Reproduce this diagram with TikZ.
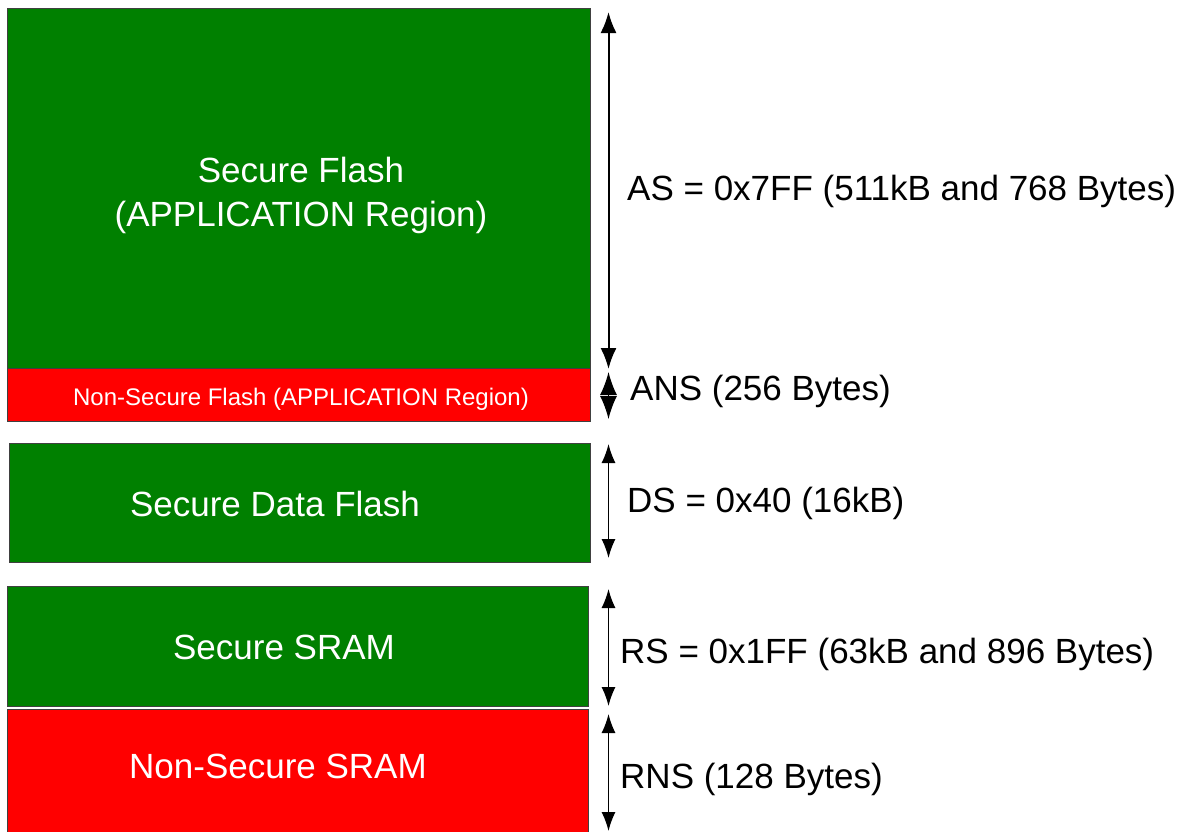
\documentclass[tikz,border=0pt]{standalone}
\usepackage{fontspec}
\setmainfont{Liberation Sans}
\usetikzlibrary{arrows.meta}
\definecolor{sgreen}{HTML}{008000}
\definecolor{nsred}{HTML}{FF0000}
\tikzset{
  box/.style={draw=black!75, line width=0.9pt, inner sep=0pt, anchor=north west},
  big/.style={font=\fontsize{35}{40}\selectfont, inner sep=0pt},
  wtext/.style={big, text=white, align=center},
  small/.style={font=\fontsize{24}{28}\selectfont, inner sep=0pt, text=white},
  dimtext/.style={big, anchor=west},
  bigarrow/.style={line width=2pt, {Latex[length=21pt,width=16pt]}-{Latex[length=21pt,width=16pt]}},
  dimarrow/.style={line width=1.4pt, {Latex[length=19pt,width=14pt]}-{Latex[length=19pt,width=14pt]}},
  ansarrow/.style={line width=1.4pt, {Latex[length=23pt,width=17pt]}-{Latex[length=23pt,width=17pt]}}
}
\begin{document}
\begin{tikzpicture}[x=1pt,y=1pt]
\useasboundingbox (0,0) rectangle (1182,-831);
% boxes
\node[box, fill=sgreen, minimum width=583pt, minimum height=360pt] (sf) at (7,-8) {};
\node[box, fill=nsred, minimum width=583pt, minimum height=53pt] (nsf) at (7,-368) {};
\node[box, fill=sgreen, minimum width=581pt, minimum height=119pt] (sdf) at (9,-443) {};
\node[box, fill=sgreen, minimum width=581pt, minimum height=120pt] (ss) at (7,-586) {};
\node[box, fill=nsred, minimum width=581pt, minimum height=126pt] (nss) at (7,-709) {};
% box texts
\node[wtext] (sft) at (301,-195) {Secure Flash\\[4pt](APPLICATION Region)};
\node[small] (nsft) at (301,-399) {Non-Secure Flash (APPLICATION Region)};
\node[wtext] (sdft) at (275,-504) {Secure Data Flash};
\node[wtext] (sst) at (284,-647) {Secure SRAM};
\node[wtext] (nsst) at (278,-766) {Non-Secure SRAM};
% arrow ends
\coordinate (a1) at (608.5,-12);
\coordinate (a2) at (608.5,-369);
\coordinate (b1) at (608.5,-372);
\coordinate (b2) at (608.5,-419);
\coordinate (d1) at (608.5,-444);
\coordinate (d2) at (608.5,-558);
\coordinate (r1) at (608.5,-589);
\coordinate (r2) at (608.5,-706);
\coordinate (n1) at (608.5,-714);
\coordinate (n2) at (608.5,-831);
\draw[bigarrow] (a1) -- (a2);
\draw[ansarrow] (b1) -- (b2);
\draw[dimarrow] (d1) -- (d2);
\draw[dimarrow] (r1) -- (r2);
\draw[dimarrow] (n1) -- (n2);
% dimension labels
\node[dimtext] (ast) at (627,-191) {AS = 0x7FF (511kB and 768 Bytes)};
\node[dimtext] (anst) at (630,-391) {ANS (256 Bytes)};
\node[dimtext] (dst) at (627,-503) {DS = 0x40 (16kB)};
\node[dimtext] (rst) at (620,-654) {RS = 0x1FF (63kB and 896 Bytes)};
\node[dimtext] (rnst) at (620,-779) {RNS (128 Bytes)};
\end{tikzpicture}
\end{document}
